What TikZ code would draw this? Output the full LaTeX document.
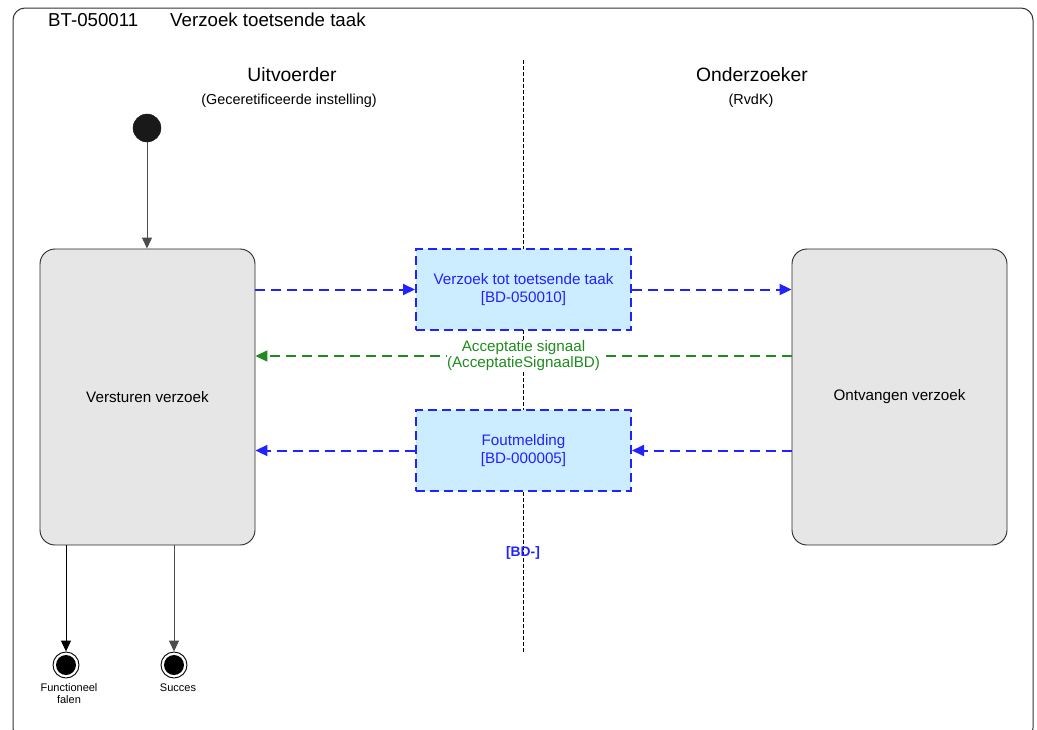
\documentclass[tikz,border=0pt]{standalone}
\usepackage{fontspec}
\setmainfont{Liberation Sans}
\usetikzlibrary{arrows.meta}
\definecolor{boxgray}{HTML}{E6E6E6}
\definecolor{msgfill}{HTML}{CCECFF}
\definecolor{msgblue}{HTML}{2222FF}
\definecolor{accgreen}{HTML}{1E8C1E}
\tikzset{
  statebox/.style={draw=black!85, fill=boxgray, rounded corners=15pt, minimum width=215pt, minimum height=296pt, inner sep=0pt, font=\fontsize{15.2}{18}\selectfont, line width=0.9pt},
  msgbox/.style={draw=msgblue, fill=msgfill, dash pattern=on 9pt off 5pt, line width=2pt, minimum width=215pt, minimum height=81pt, inner sep=0pt, align=center, text=msgblue, font=\fontsize{15.2}{18}\selectfont},
  msgarrow/.style={draw=msgblue, line width=2pt, dash pattern=on 10pt off 6pt, -{Triangle[length=12pt,width=11pt]}},
  accarrow/.style={draw=accgreen, line width=2pt, dash pattern=on 10pt off 6pt, -{Triangle[length=12pt,width=11pt]}},
  flow/.style={draw=black!70, line width=1pt, -{Triangle[length=11pt,width=10pt]}},
  smalllabel/.style={font=\fontsize{11}{12}\selectfont, align=center, inner sep=0pt},
}
\begin{document}
\begin{tikzpicture}[x=1pt,y=-1pt]
\useasboundingbox (0,0) rectangle (1037,729);
% frame
\draw[black!80, line width=1pt, rounded corners=12pt] (13,8) rectangle (1033,740);
\node[anchor=west, font=\fontsize{18.7}{19}\selectfont, inner sep=0pt] (id) at (48,20) {BT-050011};
\node[anchor=west, font=\fontsize{18.7}{19}\selectfont, inner sep=0pt] (title) at (170,20) {Verzoek toetsende taak};
% swimlane headers
\node[font=\fontsize{19.3}{20}\selectfont, inner sep=0pt] (lane1) at (292,75) {Uitvoerder};
\node[font=\fontsize{14.4}{15}\selectfont, inner sep=0pt] (lane1s) at (289,101) {(Geceretificeerde instelling)};
\node[font=\fontsize{19.3}{20}\selectfont, inner sep=0pt] (lane2) at (752,75) {Onderzoeker};
\node[font=\fontsize{14.4}{15}\selectfont, inner sep=0pt] (lane2s) at (751,101) {(RvdK)};
% divider
\coordinate (divtop) at (523,60);
\coordinate (divbot) at (523,652);
\draw[black, line width=0.9pt, dash pattern=on 4pt off 2pt] (divtop) -- (divbot);
% states
\node[statebox] (send) at (147.5,397) {Versturen verzoek};
\node[statebox] (recv) at (899.5,397) {Ontvangen verzoek};
% messages
\node[msgbox] (m1) at (523.5,289.5) {Verzoek tot toetsende taak\\{[BD-050010]}};
\node[msgbox] (m2) at (523.5,450.5) {Foutmelding\\{[BD-000005]}};
% start
\node[circle, fill=black!90, draw=black!90, minimum size=28pt, inner sep=0pt] (start) at (147,128) {};
\draw[flow] (start) -- (send.north -| start);
% arrows
\draw[msgarrow] (send.east |- m1.west) -- (m1.west);
\draw[msgarrow] (m1.east) -- (recv.west |- m1.east);
\draw[accarrow] (recv.west |- 0,356) -- (send.east |- 0,356);
\node[text=accgreen, font=\fontsize{15.2}{16}\selectfont, align=center, inner sep=0pt, fill=white] (acc) at (523.5,356) {Acceptatie signaal\\(AcceptatieSignaalBD)};
\draw[msgarrow] (recv.west |- m2.east) -- (m2.east);
\draw[msgarrow] (m2.west) -- (send.east |- m2.west);
\node[text=msgblue, font=\bfseries\fontsize{13.8}{14}\selectfont, inner sep=1pt] (bd) at (523,553) {[BD-]};
% end states
\node[circle, draw=black, line width=0.9pt, fill=white, minimum size=26pt, inner sep=0pt] (endf) at (66,665) {};
\fill[black] (endf.center) circle (10pt);
\node[circle, draw=black, line width=0.9pt, fill=white, minimum size=26pt, inner sep=0pt] (ends) at (174,665) {};
\fill[black] (ends.center) circle (10pt);
\draw[flow, draw=black] (send.south -| endf) -- (endf.north);
\draw[flow] (send.south -| ends) -- (ends.north);
\node[smalllabel] (lf) at (69,694) {Functioneel\\falen};
\node[smalllabel] (ls) at (178,688) {Succes};
\end{tikzpicture}
\end{document}
